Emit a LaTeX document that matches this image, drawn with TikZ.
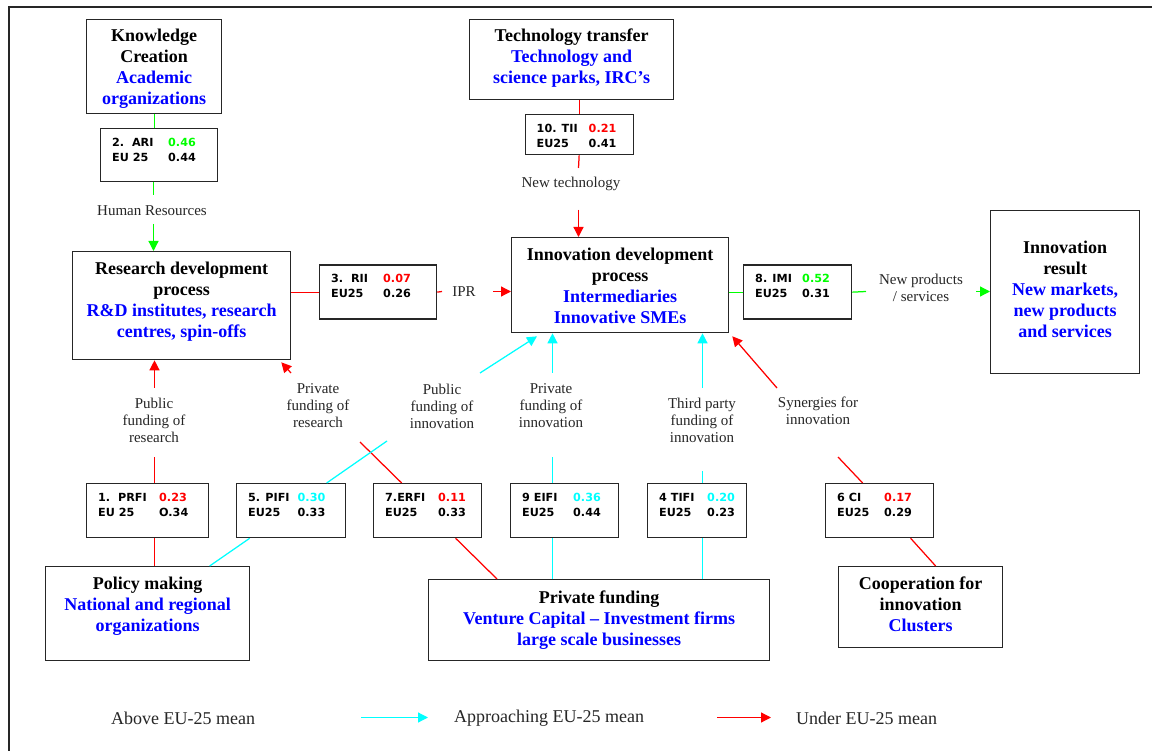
\documentclass[tikz,border=0pt]{standalone}
\usepackage{fontspec}
\setmainfont{Liberation Serif}
\newfontfamily\idxfont{DejaVu Sans}
\usetikzlibrary{arrows.meta}
\definecolor{cg}{RGB}{0,255,0}
\definecolor{cc}{RGB}{0,255,255}
\definecolor{cr}{RGB}{255,0,0}
\definecolor{cb}{RGB}{0,0,255}
\tikzset{
  box/.style={draw=black!85, line width=1.3pt, inner sep=0pt, anchor=north west},
  ttl/.style={anchor=base, inner sep=0pt, font=\fontsize{18}{21}\selectfont\bfseries},
  lbl/.style={inner sep=0pt, align=center, font=\fontsize{15}{17}\selectfont, text=black!85},
  leg/.style={inner sep=0pt, anchor=west, font=\fontsize{18}{21}\selectfont, text=black!85},
  idx/.style={anchor=base west, inner sep=0pt, font=\idxfont\bfseries\fontsize{11.2}{15}\selectfont},
  cn/.style={line width=1.25pt},
  tip/.style={-{Triangle[length=10pt,width=10pt]}},
  gl/.style={cn, draw=cg}, ga/.style={gl, tip, fill=cg},
  rl/.style={cn, draw=cr}, ra/.style={rl, tip, fill=cr},
  cl/.style={cn, draw=cc}, ca/.style={cl, tip, fill=cc},
}
\newcommand\ttxt[1]{\begin{tabular}[t]{@{}c@{}}#1\end{tabular}}
\newcommand\ix[7]{\node[idx] at ([xshift=12pt,yshift=-18.5pt]#1.north west)
  {\begin{tabular}[t]{@{}p{#2}@{}l@{}}#3&\textcolor{#4}{#5}\\#6&#7\end{tabular}};}
\begin{document}
\begin{tikzpicture}[x=1pt,y=-1pt]
\useasboundingbox (0,0) rectangle (1152,751);
\fill[white] (0,0) rectangle (1152,751);
% frame
\draw[line width=1.7pt, black!85, line cap=rect] (9,751) -- (9,7) -- (1152,7);

% main boxes
\node[box, minimum width=135pt, minimum height=94pt] (kc) at (86,19) {};
\node[box, minimum width=204pt, minimum height=80pt] (tt) at (469,19) {};
\node[box, minimum width=218pt, minimum height=108pt] (rd) at (72,251) {};
\node[box, minimum width=217pt, minimum height=95pt] (idp) at (511,237) {};
\node[box, minimum width=149pt, minimum height=163pt] (ir) at (990,210) {};
\node[box, minimum width=204pt, minimum height=94pt] (pm) at (45,566) {};
\node[box, minimum width=341pt, minimum height=81pt] (pf) at (428,579) {};
\node[box, minimum width=164pt, minimum height=81pt] (coop) at (838,566) {};

\node[ttl] at ([yshift=-23pt]kc.north) {\ttxt{Knowledge\\Creation\\\color{cb}Academic\\\color{cb}organizations}};
\node[ttl] at ([yshift=-23pt]tt.north) {\ttxt{Technology transfer\\\color{cb}Technology and\\\color{cb}science parks, IRC's}};
\node[ttl] at ([yshift=-23.3pt]rd.north) {\ttxt{Research development\\process\\\color{cb}R\&D institutes, research\\\color{cb}centres, spin-offs}};
\node[ttl] at ([yshift=-23.7pt]idp.north) {\ttxt{Innovation development\\process\\\color{cb}Intermediaries\\\color{cb}Innovative SMEs}};
\node[ttl] at ([yshift=-44pt]ir.north) {\ttxt{Innovation\\result\\\color{cb}New markets,\\\color{cb}new products\\\color{cb}and services}};
\node[ttl] at ([yshift=-23pt]pm.north) {\ttxt{Policy making\\\color{cb}National and regional\\\color{cb}organizations}};
\node[ttl] at ([yshift=-24.3pt]pf.north) {\ttxt{Private funding\\\color{cb}Venture Capital -- Investment firms\\\color{cb}large scale businesses}};
\node[ttl] at ([yshift=-23pt]coop.north) {\ttxt{Cooperation for\\innovation\\\color{cb}Clusters}};

% index boxes
\node[box, minimum width=117pt, minimum height=53pt] (ari) at (100,128) {};
\node[box, minimum width=117pt, minimum height=54pt] (rii) at (319,264.5) {};
\node[box, minimum width=108pt, minimum height=40pt] (tii) at (524.5,114) {};
\node[box, minimum width=108pt, minimum height=54pt] (imi) at (743,264.5) {};
\node[box, minimum width=122pt, minimum height=54pt] (prfi) at (86,483) {};
\node[box, minimum width=109pt, minimum height=54pt] (pifi) at (236,483) {};
\node[box, minimum width=108pt, minimum height=54pt] (erfi) at (373,483) {};
\node[box, minimum width=108pt, minimum height=54pt] (eifi) at (510,483) {};
\node[box, minimum width=99pt, minimum height=54pt] (tifi) at (647,483) {};
\node[box, minimum width=108pt, minimum height=54pt] (ci) at (825,483) {};

\ix{ari}{56pt}{2.\ \ ARI}{cg}{0.46}{EU 25}{0.44}
\ix{rii}{52pt}{3.\ \ RII}{cr}{0.07}{EU25}{0.26}
\ix{tii}{52pt}{10. TII}{cr}{0.21}{EU25}{0.41}
\ix{imi}{47pt}{8. IMI}{cg}{0.52}{EU25}{0.31}
\ix{prfi}{61pt}{1.\ \ PRFI}{cr}{0.23}{EU 25}{O.34}
\ix{pifi}{49.5pt}{5. PIFI}{cc}{0.30}{EU25}{0.33}
\ix{erfi}{53pt}{7.ERFI}{cr}{0.11}{EU25}{0.33}
\ix{eifi}{51pt}{9 EIFI}{cc}{0.36}{EU25}{0.44}
\ix{tifi}{48pt}{4 TIFI}{cc}{0.20}{EU25}{0.23}
\ix{ci}{47pt}{6 CI}{cr}{0.17}{EU25}{0.29}

% labels
\node[lbl] (hr) at (152,211) {Human Resources};
\node[lbl] (ntl) at (571,184) {New technology};
\node[lbl] (iprl) at (464,292) {IPR};
\node[lbl] (npl) at (921,288) {New products\\/ services};
\node[lbl] (pfr) at (154,420) {Public\\funding of\\research};
\node[lbl] (prr) at (318,406) {Private\\funding of\\research};
\node[lbl] (pfi) at (442,406) {Public\\funding of\\innovation};
\node[lbl] (pri) at (551,406) {Private\\funding of\\innovation};
\node[lbl] (tpi) at (702,420) {Third party\\funding of\\innovation};
\node[lbl] (syi) at (818,411) {Synergies for\\innovation};

% coordinates for free ends
\coordinate (hr1) at (153.5,195); \coordinate (hr2) at (153.5,224);
\coordinate (np1) at (866,291.5);   \coordinate (np2) at (976,291.5);
\coordinate (ipr1) at (442,291.5);  \coordinate (ipr2) at (493,291.5);
\coordinate (nt1) at (578.5,168);   \coordinate (nt2) at (578.5,210);
\coordinate (pr1) at (154.5,457);   \coordinate (pr2) at (154.5,388);
\coordinate (er1) at (360,442);   \coordinate (er2) at (291,373);
\coordinate (ci1) at (838,457);   \coordinate (ci2) at (777,388);
\coordinate (pi1) at (387,441);   \coordinate (pi2) at (480,373);
\coordinate (ei1) at (552.5,457);   \coordinate (ei2) at (552.5,373);
\coordinate (ti1) at (702.5,471);   \coordinate (ti2) at (702.5,388);

% green connectors
\draw[gl] (kc.south) -- (kc.south |- ari.north);
\draw[gl] (hr1 |- ari.south) -- (hr1);
\draw[ga] (hr2) -- (hr2 |- rd.north);
\draw[gl] (imi.west -| idp.east) -- (imi.west);
\draw[gl] (imi.east) -- (np1);
\draw[ga] (np2) -- (np2 -| ir.west);

% red connectors
\draw[rl] (rii.west -| rd.east) -- (rii.west);
\draw[rl] (rii.east) -- (ipr1);
\draw[ra] (ipr2) -- (ipr2 -| idp.west);
\draw[rl] (tii.north |- tt.south) -- (tii.north);
\draw[rl] (tii.south) -- (nt1);
\draw[ra] (nt2) -- (nt2 |- idp.north);
\draw[rl] (pr1 |- pm.north) -- (pr1 |- prfi.south);
\draw[rl] (pr1 |- prfi.north) -- (pr1);
\draw[ra] (pr2) -- (pr2 |- rd.south);
\draw[rl] ([xshift=69pt]pf.north west) -- ([xshift=28pt]erfi.south);
\draw[rl] ([xshift=-26pt]erfi.north) -- (er1);
\draw[ra] (er2) -- ([xshift=-10pt,yshift=-2pt]rd.south east);
\draw[rl] ([xshift=15pt]coop.north) -- ([xshift=31pt]ci.south);
\draw[rl] ([xshift=-17pt]ci.north) -- (ci1);
\draw[ra] (ci2) -- ([xshift=3pt,yshift=-3pt]idp.south east);

% cyan connectors
\draw[cl] ([xshift=62pt]pm.north) -- ([xshift=-41.5pt]pifi.south);
\draw[cl] ([xshift=35.5pt]pifi.north) -- (pi1);
\draw[ca] (pi2) -- ([xshift=26pt,yshift=-3pt]idp.south west);
\draw[cl] (ei1 |- pf.north) -- (ei1 |- eifi.south);
\draw[cl] (ei1 |- eifi.north) -- (ei1);
\draw[ca] (ei2) -- (ei2 |- idp.south);
\draw[cl] (ti1 |- pf.north) -- (ti1 |- tifi.south);
\draw[cl] (ti1 |- tifi.north) -- (ti1);
\draw[ca] (ti2) -- (ti2 |- idp.south);

% legend
\node[leg] (l1) at (111,718) {Above EU-25 mean};
\coordinate (lc1) at (361,717.5); \coordinate (lc2) at (428,717.5);
\draw[ca] (lc1) -- (lc2);
\node[leg] (l2) at (454,718) {Approaching EU-25 mean};
\coordinate (lr1) at (717,717.5); \coordinate (lr2) at (771,717.5);
\draw[ra] (lr1) -- (lr2);
\node[leg] (l3) at (796,718) {Under EU-25 mean};
\end{tikzpicture}
\end{document}
